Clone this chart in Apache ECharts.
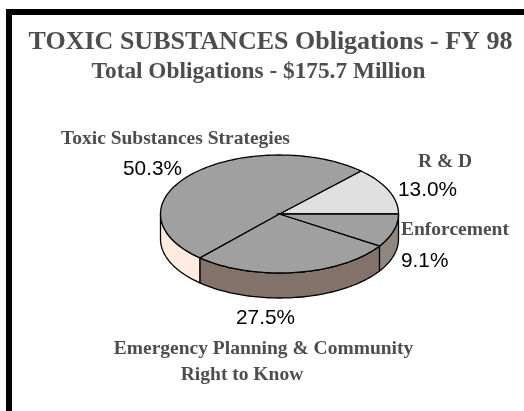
<!DOCTYPE html>
<html><head><meta charset="utf-8">
<style>html,body{margin:0;padding:0;background:#fff}#c{width:524px;height:411px}</style>
<script src="https://cdn.jsdelivr.net/npm/echarts@6/dist/echarts.min.js"></script></head>
<body><div id="c"></div>
<script>
const categories = ['R & D', 'Toxic Substances Strategies', 'Emergency Planning & Community Right to Know', 'Enforcement'];
const values = [13.0, 50.3, 27.5, 9.1];
const topColors = ['#E0E0E0', '#A0A0A0', '#A0A0A0', '#A0A0A0'];
const sideColors = ['#E0E0E0', '#FFEBE0', '#83736B', '#8F8680'];
const chart = echarts.init(document.getElementById('c'), null, {renderer: 'canvas'});
const CX = 279.5, CY = 214, RX = 119, RY = 59, DEPTH = 25;
const total = values.reduce((a, b) => a + b, 0);
const pt = (a, d) => [CX + RX * Math.cos(a), CY - RY * Math.sin(a) + (d || 0)];
function arc(a0, a1, d) {
  const n = Math.max(2, Math.ceil(Math.abs(a1 - a0) * 40));
  const out = [];
  for (let i = 0; i <= n; i++) out.push(pt(a0 + (a1 - a0) * i / n, d));
  return out;
}
const lineStyle = {stroke: '#000', lineWidth: 1.3};
function renderItem(params, api) {
  const i = params.dataIndex;
  let start = 0;
  for (let k = 0; k < i; k++) start += values[k];
  const a0 = start / total * 2 * Math.PI;
  const a1 = (start + api.value(0)) / total * 2 * Math.PI;
  const children = [];
  const s0 = Math.max(a0, Math.PI), s1 = Math.min(a1, 2 * Math.PI);
  if (s1 > s0) {
    const pts = arc(s0, s1, 0).concat(arc(s1, s0, DEPTH));
    children.push({type: 'polygon', shape: {points: pts},
      style: Object.assign({fill: sideColors[i]}, lineStyle), z2: 1});
  }
  const top = [[CX, CY]].concat(arc(a0, a1, 0));
  children.push({type: 'polygon', shape: {points: top},
    style: Object.assign({fill: topColors[i]}, lineStyle), z2: 2});
  return {type: 'group', children};
}
const serif = '"Liberation Serif"', sans = '"Liberation Sans"';
const txt = (text, x, y, size, font, fill, weight, align) => ({
  type: 'text', x, y,
  style: {text, fontFamily: font, fontSize: size, fontWeight: weight || 'normal',
    fill, textAlign: align || 'left', textVerticalAlign: 'middle'}
});
const grey = '#4D4D4D';
const pct = i => values[i].toFixed(1) + '%';
chart.setOption({
  animation: false,
  backgroundColor: '#fff',
  xAxis: {show: false}, yAxis: {show: false},
  series: [{type: 'custom', coordinateSystem: 'none', renderItem, silent: true,
    data: values.map((v, i) => ({name: categories[i], value: [v]}))}],
  graphic: [
    {type: 'rect', shape: {x: 6, y: 9, width: 518, height: 6}, style: {fill: '#000'}},
    {type: 'rect', shape: {x: 6, y: 9, width: 6, height: 402}, style: {fill: '#000'}},
    txt('TOXIC SUBSTANCES Obligations - FY 98', 270.5, 42, 26, serif, grey, 'bold', 'center'),
    txt('Total Obligations - $175.7 Million', 258.5, 72, 23.3, serif, grey, 'bold', 'center'),
    txt('Toxic Substances Strategies', 61, 139, 19.5, serif, grey, 'bold'),
    txt(pct(1), 123, 169, 20.8, sans, '#000'),
    txt('R & D', 418, 162, 19.5, serif, grey, 'bold'),
    txt(pct(0), 398, 190, 20.8, sans, '#000'),
    txt('Enforcement', 401, 230, 19.5, serif, grey, 'bold'),
    txt(pct(3), 401, 261, 20.8, sans, '#000'),
    txt(pct(2), 236, 318, 20.8, sans, '#000'),
    txt('Emergency Planning & Community', 263.5, 349, 19.5, serif, grey, 'bold', 'center'),
    txt('Right to Know', 242, 375, 19.5, serif, grey, 'bold', 'center')
  ]
});
</script></body></html>
